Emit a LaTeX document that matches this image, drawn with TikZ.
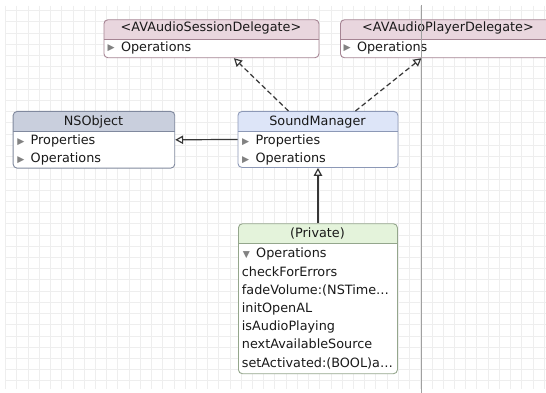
\documentclass[tikz,border=0pt]{standalone}
\usepackage{fontspec}
\setmainfont{DejaVu Sans}
\usetikzlibrary{arrows.meta,calc,positioning}

\definecolor{gridgray}{RGB}{238,238,238}
\definecolor{pagegray}{RGB}{160,160,160}
\definecolor{foldgray}{RGB}{130,130,130}
\definecolor{inkgray}{RGB}{25,25,25}
\definecolor{wiregray}{RGB}{55,55,55}
\definecolor{protohead}{RGB}{233,214,222}
\definecolor{protoedge}{RGB}{165,132,147}
\definecolor{basehead}{RGB}{201,207,221}
\definecolor{baseedge}{RGB}{128,137,158}
\definecolor{classhead}{RGB}{221,229,248}
\definecolor{classedge}{RGB}{140,152,182}
\definecolor{privhead}{RGB}{228,243,219}
\definecolor{privedge}{RGB}{148,166,140}

% little disclosure triangles in front of a section name
\newcommand{\folded}{\makebox[13.3pt][l]{\raisebox{0.3pt}{\textcolor{foldgray}{\fontsize{9.2}{9.2}\selectfont ▶}}}}
\newcommand{\unfolded}{\makebox[13.3pt][l]{\raisebox{0.3pt}{\textcolor{foldgray}{\fontsize{9.2}{9.2}\selectfont ▼}}}}

\tikzset{
  umlclass/.style 2 args={draw=#2, fill=white, rounded corners=4, line width=0.9pt,
    inner sep=0, anchor=north west,
    path picture={
      \fill[#1, sharp corners] (path picture bounding box.north west)
        rectangle ($(path picture bounding box.north east)+(0,20)$);
      \draw[#2, sharp corners, line width=0.9pt] ($(path picture bounding box.north west)+(0,20)$)
        -- ($(path picture bounding box.north east)+(0,20)$);
    }},
  title/.style={anchor=base, inner sep=0, text=inkgray, font=\fontsize{12.8}{15}\selectfont},
  member/.style={anchor=base west, inner sep=0, text=inkgray, font=\fontsize{12.8}{15}\selectfont},
  realize/.style={draw=wiregray, line width=1.2pt, dash pattern=on 5pt off 3pt,
    -{Triangle[open, length=8pt, width=8.5pt, line width=1.2pt]}},
  inherit/.style={draw=wiregray, line width=1.2pt,
    -{Triangle[open, length=8pt, width=8.5pt, line width=1.2pt]}},
  gridline/.style={draw=gridgray, line width=1pt},
}

\begin{document}
\begin{tikzpicture}[x=1pt, y=-1pt]
  \useasboundingbox (0,0) rectangle (546,393);
  \clip (0,0) rectangle (546,393);
  \fill[white] (0,0) rectangle (546,393);

  % canvas grid
  \foreach \i in {0,...,48}
    \draw[gridline] (5.7+11.22*\i, 6) -- (5.7+11.22*\i, 389);
  \foreach \j in {0,...,33}
    \draw[gridline] (5.7, 10.7+11.22*\j) -- (546, 10.7+11.22*\j);

  % protocols
  \node[umlclass={protohead}{protoedge}, minimum width=215, minimum height=38] (session) at (103.5,19.3) {};
  \node[title] (sessionname) at (211,31.8) {<AVAudioSessionDelegate>};
  \node[member] (sessionops) at (107.5,51.3) {\folded Operations};

  \node[umlclass={protohead}{protoedge}, minimum width=216, minimum height=38] (player) at (340,19.3) {};
  \node[title] (playername) at (448,31.8) {<AVAudioPlayerDelegate>};
  \node[member] (playerops) at (343.5,51.3) {\folded Operations};

  % classes
  \node[umlclass={basehead}{baseedge}, minimum width=161.6, minimum height=56.7] (nsobj) at (12.7,111) {};
  \node[title] (nsobjname) at (93.5,125.3) {NSObject};
  \node[member] (nsobjprops) at (17.2,144.6) {\folded Properties};
  \node[member] (nsobjops) at (17.2,162.3) {\folded Operations};

  \node[umlclass={classhead}{classedge}, minimum width=160, minimum height=56] (soundmgr) at (237.5,111) {};
  \node[title] (soundmgrname) at (317.5,125.3) {SoundManager};
  \node[member] (soundmgrprops) at (242,144.6) {\folded Properties};
  \node[member] (soundmgrops) at (242,162.3) {\folded Operations};

  % category
  \node[umlclass={privhead}{privedge}, minimum width=159, minimum height=150] (private) at (238,223.3) {};
  \node[title] (privatename) at (317.5,237.9) {(Private)};
  \node[member] (privateops) at (242.7,257.9) {\unfolded Operations};
  \foreach \op [count=\i] in {checkForErrors, {fadeVolume:(NSTime…}, initOpenAL,
      isAudioPlaying, nextAvailableSource, {setActivated:(BOOL)a…}}
    \node[member] (op\i) at (241.7,257.9+18.2*\i) {\op};

  % relations
  \draw[realize] ([shift={(-29.5,0)}]soundmgr.north) -- ([shift={(22.5,0)}]session.south);
  \draw[realize] ([shift={(37.5,0)}]soundmgr.north) -- ([shift={(-27,0)}]player.south);
  \draw[inherit] (soundmgr.west) -- (nsobj.east);
  \draw[inherit] (private.north) -- (soundmgr.south);

  % page break marker
  \draw[pagegray, line width=0.8pt] (421,5) -- (421,393);
\end{tikzpicture}
\end{document}
